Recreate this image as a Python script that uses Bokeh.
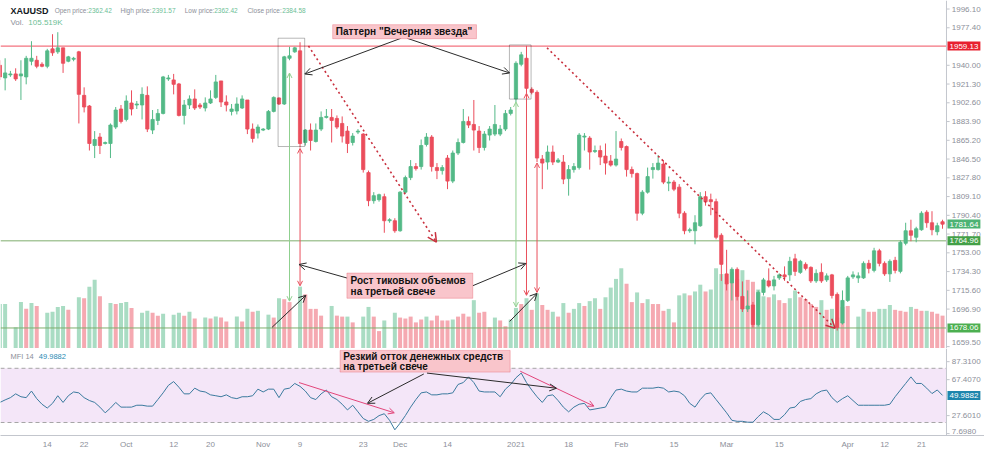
import numpy as np
from bokeh.plotting import figure
from bokeh.models import (Range1d, FixedTicker, BoxAnnotation, Label, Arrow, OpenHead)
from bokeh.core.properties import value
from bokeh.layouts import column
from bokeh.embed import file_html
from bokeh.resources import INLINE

# ---------------- data (XAUUSD daily) ----------------
opens = [
    1940.0, 1927.4, 1930.4, 1931.4, 1929.4, 1928.4, 1944.0, 1945.0, 1941.0, 1939.0,
    1956.4, 1953.4, 1957.4, 1944.0, 1946.0, 1953.4, 1910.0, 1899.4, 1860.0, 1868.4,
    1862.0, 1862.0, 1878.4, 1896.4, 1886.0, 1902.4, 1900.4, 1900.4, 1910.0, 1875.4,
    1885.0, 1892.0, 1926.4, 1925.4, 1921.4, 1890.0, 1900.4, 1906.4, 1900.4, 1897.4,
    1902.4, 1908.0, 1924.4, 1903.4, 1894.0, 1894.4, 1897.4, 1905.4, 1876.4, 1872.4,
    1875.4, 1876.4, 1894.0, 1907.4, 1901.4, 1947.0, 1953.4, 1954.4, 1863.0, 1875.4,
    1864.0, 1876.4, 1888.0, 1888.0, 1887.0, 1882.0, 1874.4, 1863.0, 1873.4, 1871.4,
    1833.0, 1805.0, 1806.0, 1809.0, 1785.0, 1785.0, 1775.0, 1813.5, 1828.0, 1839.0,
    1839.0, 1861.0, 1868.4, 1838.0, 1835.0, 1847.5, 1824.5, 1852.5, 1863.0, 1884.0,
    1881.0, 1874.4, 1858.0, 1870.4, 1871.4, 1871.4, 1876.4, 1892.0, 1906.4, 1941.0,
    1947.0, 1916.0, 1913.0, 1846.5, 1843.5, 1853.5, 1843.5, 1843.5, 1827.0, 1836.0,
    1838.0, 1868.4, 1867.4, 1854.0, 1855.0, 1849.5, 1844.5, 1840.5, 1864.0, 1859.0,
    1836.0, 1832.0, 1792.5, 1813.5, 1836.0, 1836.0, 1841.5, 1822.5, 1823.5, 1818.5,
    1792.5, 1775.0, 1775.0, 1780.0, 1809.0, 1806.0, 1804.0, 1770.5, 1732.0, 1723.0,
    1736.5, 1709.5, 1697.0, 1701.0, 1681.5, 1713.5, 1725.0, 1720.0, 1728.0, 1731.0,
    1731.0, 1747.0, 1733.5, 1741.5, 1738.5, 1725.0, 1733.5, 1726.0, 1731.0, 1711.5,
    1683.0, 1705.5, 1729.0, 1728.0, 1728.0, 1742.5, 1735.5, 1755.0, 1742.5, 1732.0,
    1745.5, 1734.5, 1762.5, 1775.0, 1768.5, 1776.0, 1793.5, 1783.0, 1774.0, 1784.0,
]
highs = [
    1945.0, 1947.0, 1934.4, 1937.0, 1945.0, 1949.4, 1964.0, 1949.4, 1943.0, 1956.4,
    1971.0, 1973.0, 1957.4, 1949.4, 1948.4, 1954.4, 1918.0, 1900.4, 1874.4, 1872.4,
    1864.0, 1882.0, 1898.4, 1900.4, 1910.0, 1915.0, 1904.4, 1918.0, 1919.0, 1895.4,
    1896.4, 1929.4, 1930.4, 1931.4, 1922.4, 1905.4, 1910.0, 1916.0, 1902.4, 1908.0,
    1915.0, 1930.4, 1924.4, 1910.0, 1901.4, 1908.0, 1910.0, 1905.4, 1882.0, 1881.0,
    1877.4, 1895.4, 1909.0, 1908.0, 1949.4, 1958.4, 1958.4, 1963.0, 1876.4, 1882.0,
    1882.0, 1894.0, 1896.4, 1896.4, 1890.0, 1889.0, 1879.4, 1872.4, 1876.4, 1872.4,
    1835.0, 1813.5, 1812.0, 1812.0, 1787.5, 1787.5, 1814.5, 1830.0, 1845.5, 1842.5,
    1866.0, 1872.4, 1870.4, 1842.5, 1840.5, 1850.5, 1855.0, 1867.0, 1896.4, 1889.0,
    1905.4, 1879.4, 1874.4, 1879.4, 1900.4, 1880.4, 1895.4, 1898.4, 1944.0, 1953.4,
    1959.4, 1918.0, 1915.0, 1850.5, 1860.0, 1860.0, 1847.5, 1850.5, 1840.5, 1842.5,
    1872.4, 1872.4, 1869.4, 1860.0, 1860.0, 1862.0, 1850.5, 1874.4, 1867.0, 1860.0,
    1839.0, 1833.0, 1815.5, 1838.0, 1842.5, 1850.5, 1845.5, 1829.0, 1825.5, 1821.5,
    1794.5, 1778.0, 1790.5, 1813.5, 1814.5, 1812.0, 1807.0, 1772.5, 1756.0, 1738.5,
    1738.5, 1724.5, 1715.5, 1704.0, 1715.5, 1728.0, 1737.5, 1730.0, 1732.5, 1739.5,
    1749.0, 1752.0, 1746.0, 1743.5, 1739.5, 1736.5, 1742.5, 1732.5, 1732.0, 1713.5,
    1715.5, 1730.0, 1734.5, 1733.5, 1744.5, 1746.0, 1758.0, 1757.0, 1744.5, 1746.5,
    1749.0, 1765.5, 1783.0, 1786.0, 1779.0, 1794.5, 1795.5, 1794.5, 1783.0, 1786.0,
]
lows = [
    1925.4, 1915.0, 1928.4, 1924.4, 1905.4, 1921.0, 1940.0, 1937.0, 1938.0, 1937.0,
    1949.4, 1951.4, 1932.4, 1943.0, 1944.0, 1882.0, 1893.0, 1855.0, 1847.5, 1851.5,
    1861.0, 1847.5, 1876.4, 1882.0, 1884.0, 1890.0, 1896.4, 1886.0, 1873.4, 1871.4,
    1880.4, 1891.0, 1924.4, 1911.0, 1889.0, 1881.0, 1896.4, 1895.4, 1896.4, 1894.0,
    1901.4, 1906.4, 1898.4, 1894.0, 1890.0, 1891.0, 1896.4, 1871.4, 1863.0, 1867.0,
    1874.4, 1875.4, 1893.0, 1900.4, 1900.4, 1945.0, 1952.4, 1858.0, 1860.0, 1855.0,
    1863.0, 1874.4, 1887.0, 1863.0, 1876.4, 1863.0, 1852.5, 1860.0, 1871.4, 1833.0,
    1799.5, 1802.0, 1804.0, 1773.0, 1783.0, 1773.0, 1774.0, 1812.0, 1825.5, 1835.0,
    1836.0, 1859.0, 1834.0, 1826.5, 1831.0, 1816.5, 1822.5, 1850.5, 1862.0, 1877.4,
    1855.0, 1852.5, 1855.0, 1865.0, 1869.4, 1869.4, 1874.4, 1890.0, 1903.4, 1939.0,
    1912.0, 1911.0, 1843.5, 1816.5, 1836.0, 1840.5, 1842.5, 1821.5, 1810.0, 1833.0,
    1836.0, 1855.0, 1836.0, 1852.5, 1840.5, 1831.0, 1839.0, 1839.0, 1855.0, 1829.0,
    1828.0, 1785.0, 1790.5, 1812.0, 1827.0, 1835.0, 1821.5, 1814.5, 1814.5, 1787.5,
    1771.5, 1773.0, 1761.5, 1779.0, 1800.0, 1790.5, 1766.5, 1725.0, 1715.5, 1705.5,
    1705.5, 1694.0, 1694.0, 1678.5, 1679.5, 1710.5, 1718.5, 1715.5, 1726.0, 1725.0,
    1725.0, 1730.0, 1732.0, 1735.5, 1723.0, 1723.0, 1723.0, 1724.0, 1707.5, 1675.5,
    1681.5, 1704.0, 1727.0, 1723.0, 1727.0, 1732.5, 1733.5, 1739.5, 1730.0, 1724.0,
    1732.5, 1732.5, 1760.5, 1764.5, 1763.5, 1775.0, 1778.0, 1770.5, 1770.5, 1777.0,
]
closes = [
    1928.4, 1932.4, 1931.4, 1926.4, 1931.4, 1947.0, 1947.0, 1939.0, 1939.0, 1954.4,
    1952.4, 1957.4, 1942.0, 1948.4, 1947.0, 1911.0, 1898.4, 1862.0, 1866.0, 1860.0,
    1863.0, 1880.4, 1895.4, 1884.0, 1904.4, 1896.4, 1901.4, 1911.0, 1876.4, 1886.0,
    1892.0, 1928.4, 1927.4, 1921.0, 1890.0, 1900.4, 1906.4, 1897.4, 1898.4, 1902.4,
    1906.4, 1923.4, 1903.4, 1900.4, 1896.4, 1901.4, 1906.4, 1876.4, 1867.0, 1878.4,
    1876.4, 1894.0, 1908.0, 1901.4, 1948.4, 1949.4, 1957.4, 1862.0, 1875.4, 1865.0,
    1875.4, 1888.0, 1889.0, 1885.0, 1878.4, 1869.4, 1862.0, 1869.4, 1874.4, 1836.0,
    1805.0, 1810.0, 1811.0, 1785.0, 1786.0, 1775.0, 1813.5, 1828.0, 1839.0, 1837.0,
    1860.0, 1868.4, 1839.0, 1835.0, 1838.0, 1824.5, 1852.5, 1863.0, 1884.0, 1880.4,
    1875.4, 1858.0, 1871.4, 1876.4, 1881.0, 1876.4, 1892.0, 1895.4, 1942.0, 1950.4,
    1917.0, 1913.0, 1847.5, 1842.5, 1853.5, 1843.5, 1845.5, 1826.5, 1836.0, 1839.0,
    1870.4, 1869.4, 1853.5, 1855.0, 1848.5, 1842.5, 1840.5, 1846.5, 1858.0, 1836.0,
    1832.0, 1792.5, 1813.5, 1829.0, 1838.0, 1842.5, 1823.5, 1823.5, 1816.5, 1792.5,
    1775.0, 1776.0, 1783.0, 1809.0, 1804.0, 1804.0, 1768.5, 1741.5, 1722.0, 1736.5,
    1709.5, 1697.0, 1700.0, 1681.5, 1713.5, 1726.0, 1720.0, 1726.0, 1731.0, 1729.0,
    1744.5, 1734.5, 1744.5, 1737.5, 1725.0, 1732.5, 1725.0, 1730.0, 1710.5, 1678.5,
    1705.5, 1728.0, 1731.0, 1730.0, 1742.5, 1737.5, 1755.0, 1742.5, 1732.0, 1744.5,
    1735.5, 1763.5, 1775.0, 1770.5, 1777.0, 1792.5, 1783.0, 1776.0, 1780.0, 1781.6,
]
# tick volume, thousands
volumes = [
    230, 230, 2, 110, 240, 205, 235, 220, 2, 185,
    190, 215, 220, 200, 2, 265, 260, 320, 355, 270,
    2, 235, 230, 235, 240, 210, 2, 185, 195, 185,
    170, 180, 2, 175, 185, 170, 190, 155, 2, 160,
    155, 165, 160, 140, 2, 165, 140, 205, 190, 195,
    2, 175, 160, 260, 255, 240, 2, 320, 280, 205,
    205, 170, 2, 220, 170, 165, 165, 135, 2, 165,
    215, 165, 90, 145, 2, 185, 160, 155, 165, 135,
    150, 165, 145, 170, 145, 145, 150, 165, 180, 165,
    250, 185, 190, 110, 160, 145, 115, 150, 210, 230,
    260, 200, 285, 225, 200, 190, 165, 235, 185, 205,
    235, 220, 245, 260, 205, 265, 315, 360, 415, 335,
    240, 290, 235, 255, 230, 230, 195, 205, 135, 275,
    285, 275, 295, 330, 295, 305, 415, 385, 335, 395,
    360, 405, 355, 345, 305, 270, 265, 280, 250, 235,
    260, 300, 265, 255, 230, 215, 250, 200, 205, 160,
    215, 220, 2, 165, 205, 190, 190, 205, 205, 225,
    200, 195, 190, 215, 205, 195, 195, 190, 180, 170,
]
vol_up = [
    1, 1, 1, 1, 1, 0, 1, 0, 1, 1,
    1, 1, 1, 0, 1, 1, 0, 1, 1, 0,
    1, 1, 0, 1, 1, 0, 1, 1, 1, 0,
    0, 1, 1, 1, 1, 0, 1, 0, 1, 1,
    0, 1, 0, 0, 1, 1, 0, 1, 0, 1,
    1, 1, 0, 1, 0, 0, 1, 1, 0, 0,
    0, 0, 1, 1, 0, 0, 1, 0, 1, 1,
    1, 0, 0, 1, 1, 1, 0, 0, 0, 0,
    0, 1, 0, 0, 0, 0, 1, 0, 0, 0,
    1, 0, 0, 0, 1, 0, 0, 1, 1, 0,
    1, 0, 1, 0, 0, 1, 0, 1, 0, 1,
    1, 0, 1, 1, 0, 1, 1, 1, 1, 0,
    0, 1, 0, 1, 0, 0, 0, 1, 0, 1,
    1, 0, 1, 1, 0, 1, 1, 1, 0, 0,
    0, 1, 0, 0, 1, 1, 0, 1, 0, 0,
    1, 1, 0, 0, 0, 0, 1, 0, 1, 1,
    0, 0, 1, 1, 1, 0, 0, 1, 1, 1,
    0, 0, 0, 1, 0, 0, 1, 0, 0, 0,
]
mfi = [
    42.2, 45.0, 47.5, 51.7, 48.5, 47.5, 54.8, 46.4, 40.2, 36.0,
    41.2, 49.6, 42.2, 49.6, 53.8, 52.8, 47.5, 44.3, 42.2, 37.0,
    30.7, 36.0, 42.2, 37.0, 37.0, 37.0, 39.1, 39.1, 38.1, 38.1,
    45.4, 52.8, 61.1, 65.3, 59.0, 51.7, 51.7, 58.0, 54.8, 53.8,
    50.6, 49.6, 48.5, 50.6, 47.5, 46.4, 48.5, 48.5, 49.6, 56.9,
    53.8, 56.9, 56.9, 47.5, 56.9, 58.0, 63.2, 60.0, 54.8, 47.5,
    45.4, 51.7, 55.9, 48.5, 45.4, 40.2, 33.9, 39.1, 31.8, 24.4,
    21.3, 23.4, 27.6, 29.7, 22.4, 11.9, 19.2, 27.6, 37.0, 45.4,
    52.8, 53.8, 50.6, 50.6, 51.7, 51.7, 52.8, 62.1, 64.2, 70.5,
    64.2, 54.8, 53.8, 53.8, 53.8, 48.5, 56.9, 62.1, 69.5, 74.7,
    64.2, 55.9, 48.5, 42.2, 49.6, 50.6, 44.3, 37.0, 31.8, 37.0,
    40.2, 41.2, 33.9, 34.9, 36.0, 37.0, 47.5, 55.9, 56.9, 54.8,
    53.8, 53.8, 58.0, 58.0, 58.0, 59.0, 58.0, 53.8, 54.8, 53.8,
    49.6, 41.2, 37.0, 45.4, 51.7, 52.8, 45.4, 38.1, 30.7, 22.4,
    21.3, 21.3, 20.3, 20.3, 26.5, 31.8, 28.6, 23.4, 23.4, 28.6,
    36.0, 37.0, 43.3, 45.4, 46.4, 51.7, 54.8, 55.9, 47.5, 42.2,
    46.4, 49.6, 44.3, 39.1, 39.1, 39.1, 39.1, 39.1, 39.1, 40.2,
    48.5, 55.9, 63.2, 70.5, 63.2, 63.2, 58.0, 52.0, 56.0, 49.9882,
]
price_ticks = [1996.10, 1977.40, 1940.00, 1921.30, 1902.60, 1883.90, 1865.20, 1846.50,
               1827.80, 1809.10, 1790.40, 1771.70, 1753.00, 1734.30, 1715.60, 1696.90, 1659.50]
mfi_ticks = [87.31, 67.407, 27.601, 7.698]
date_ticks = [9, 16, 24, 33, 40, 50, 57, 69, 76, 85, 98, 108, 118, 128, 138, 148, 161, 168, 175]
date_labels = ["14", "22", "Oct", "12", "20", "Nov", "9", "23", "Dec", "14", "2021",
               "18", "Feb", "15", "Mar", "15", "Apr", "12", "21"]
level_red = 1959.13
level_green = [1764.96, 1678.06]
last_close = 1781.64
mfi_last = 49.9882

# ---------------- styling ----------------
UP, DOWN = "#53b987", "#eb4d5c"
VUP, VDOWN = "#a9dcc3", "#f5a9b1"
FONT = "Liberation Sans"
AXIS_C = "#c3c6cd"
LBL_C = "#8c8f99"
AX = 179.75            # x position (bar units) of the price scale line
X0, X1 = 0.12, 186.97  # visible bar range incl. the price-scale strip

n = len(opens)
idx = np.arange(n)
o = np.array(opens); h = np.array(highs); l = np.array(lows); c = np.array(closes)
ccol = [UP if cc >= oo else DOWN for oo, cc in zip(o, c)]
vcol = [VUP if u else VDOWN for u in vol_up]

xr = Range1d(X0, X1)
p = figure(width=984, height=348, x_range=xr, y_range=Range1d(1657.6, 2004.6),
           output_backend="svg", toolbar_location=None, x_axis_location=None,
           y_axis_location=None, min_border_left=0, min_border_right=0,
           min_border_top=0, min_border_bottom=0)
p.extra_y_ranges = {"vol": Range1d(0, 1800)}
p.grid.visible = False
p.outline_line_color = None


def price_scale(fig, ticks, labels, lo_fix=None):
    k = len(ticks)
    fig.segment(x0=[AX] * k, y0=ticks, x1=[AX + 0.6] * k, y1=ticks, line_color=AXIS_C)
    ys = list(ticks)
    if lo_fix is not None:
        ys[-1] = lo_fix
    fig.text(x=[AX + 1.0] * k, y=ys, text=labels, text_font=value(FONT),
             text_font_size="8px", text_color=LBL_C, text_baseline="middle", text_align="left")
    fig.segment(x0=[AX], y0=[fig.y_range.start], x1=[AX], y1=[fig.y_range.end],
                line_color=AXIS_C, line_width=1)


# volume histogram (overlay)
p.vbar(x=idx, width=0.76, top=volumes, bottom=0, y_range_name="vol",
       fill_color=vcol, line_color=None)

# horizontal levels (up to the price scale)
p.segment(x0=[X0], y0=[level_red], x1=[AX], y1=[level_red], line_color="#f0505f", line_width=1)
p.segment(x0=[X0] * 2, y0=level_green, x1=[AX] * 2, y1=level_green,
          line_color="#7fae6e", line_width=1)

# candles
p.segment(idx, h, idx, l, line_color=ccol, line_width=1)
p.vbar(x=idx, width=0.62, top=np.maximum(o, c), bottom=np.minimum(o, c),
       fill_color=ccol, line_color=ccol, line_width=0.8)

price_scale(p, price_ticks, [f"{t:.2f}" for t in price_ticks], lo_fix=1663.5)

# pattern rectangles
p.add_layout(BoxAnnotation(left=52.83, right=57.88, top=1967.0, bottom=1859.0,
                           fill_alpha=0, line_color="#111111", line_width=1))
p.add_layout(BoxAnnotation(left=96.76, right=100.87, top=1960.3, bottom=1906.3,
                           fill_alpha=0, line_color="#111111", line_width=1))

# dotted red trend arrows
for xs, ys, xe, ye in [(58.6, 1959.3, 82.9, 1763.6), (103.9, 1957.4, 158.6, 1677.8)]:
    p.add_layout(Arrow(end=OpenHead(size=9, line_color="#c9303e", line_width=1.5),
                       x_start=xs, y_start=ys, x_end=xe, y_end=ye,
                       line_color="#c9303e", line_width=1.6, line_dash="2 3"))

# vertical candle -> volume arrows
for xv, yt, yb, col in [(55, 1932.3, 1704.8, "#8fd08f"), (57, 1857.1, 1720.1, "#e9505c"),
                        (98, 1903.4, 1699.0, "#8fd08f"), (100, 1912.1, 1710.6, "#e9505c"),
                        (102, 1842.6, 1713.5, "#e9505c")]:
    p.add_layout(Arrow(start=OpenHead(size=5, line_color=col, line_width=1),
                       end=OpenHead(size=5, line_color=col, line_width=1),
                       x_start=xv, y_start=yt, x_end=xv, y_end=yb,
                       line_color=col, line_width=1))

# black pointer arrows
for xs, ys, xe, ye in [(76.2, 1967.0, 57.9, 1931.3), (77.3, 1967.0, 96.8, 1932.3),
                       (65.9, 1727.9, 56.8, 1741.4), (89.8, 1720.2, 99.9, 1742.4),
                       (51.7, 1678.8, 58.1, 1710.6), (96.8, 1684.6, 102.0, 1712.5)]:
    p.add_layout(Arrow(end=OpenHead(size=7, line_color="#2b2b2b", line_width=1),
                       x_start=xs, y_start=ys, x_end=xe, y_end=ye,
                       line_color="#2b2b2b", line_width=1))

PINK, PINK_B = "#f9c5cb", "#e0404f"


def note_box(fig, left, right, top, bottom, lines, x_text):
    fig.add_layout(BoxAnnotation(left=left, right=right, top=top, bottom=bottom,
                                 fill_color=PINK, fill_alpha=1, line_color=PINK_B, line_width=1))
    for yy, txt in lines:
        fig.add_layout(Label(x=x_text, y=yy, text=txt, text_font=FONT, text_font_style="bold",
                             text_font_size="10px", text_color="#111111", text_baseline="middle"))


note_box(p, 63.2, 90.5, 1980.5, 1966.5, [(1973.4, 'Паттерн "Вечерняя звезда"')], 63.8)
note_box(p, 65.9, 89.8, 1732.8, 1707.7,
         [(1725.0, "Рост тиковых объемов"), (1714.2, "на третьей свече")], 66.6)


def hlabel(fig, x, y, text, color, size, bold=False):
    fig.add_layout(Label(x=x, y=y, text=text, text_font=FONT, text_font_size=size,
                         text_color=color, text_baseline="middle",
                         text_font_style="bold" if bold else "normal"))


hlabel(p, 2.0, 1994.3, "XAUUSD", "#131722", "9px", True)
for xx, txt, col in [(10.4, "Open price:", "#8c8f99"), (16.8, "2362.42", "#6cc096"),
                     (22.9, "High price:", "#8c8f99"), (28.9, "2391.57", "#6cc096"),
                     (35.1, "Low price:", "#8c8f99"), (40.7, "2362.42", "#6cc096"),
                     (47.0, "Close price:", "#8c8f99"), (53.6, "2384.58", "#6cc096")]:
    hlabel(p, xx, 1994.3, txt, col, "6.5px")
hlabel(p, 2.0, 1982.7, "Vol.", "#8c8f99", "8px")
hlabel(p, 5.4, 1982.7, "105.519K", "#6cc096", "8px")


def tag(fig, y, txt, bg):
    fig.add_layout(Label(x=AX, y=y, x_offset=1, text=txt, text_font=FONT,
                         text_font_size="8px", text_color="white", text_baseline="middle",
                         background_fill_color=bg, padding=2))


tag(p, level_red, f"{level_red:.2f}", "#e8202f")
tag(p, last_close, f"{last_close:.2f}", "#4db374")
tag(p, level_green[0], f"{level_green[0]:.2f}", "#43a047")
tag(p, level_green[1], f"{level_green[1]:.2f}", "#4caf50")

# ---------------- MFI pane ----------------
q = figure(width=984, height=103, x_range=xr, y_range=Range1d(5.6, 101.9),
           output_backend="svg", toolbar_location=None, y_axis_location=None,
           min_border_left=0, min_border_right=0, min_border_top=0, min_border_bottom=0)
q.grid.visible = False
q.outline_line_color = None

xa = q.xaxis[0]
xa.ticker = FixedTicker(ticks=date_ticks)
xa.major_label_overrides = {t: s for t, s in zip(date_ticks, date_labels)}
xa.axis_line_color = AXIS_C
xa.major_tick_line_color = None
xa.major_tick_out = 0
xa.major_tick_in = 0
xa.minor_tick_line_color = None
xa.major_label_text_color = LBL_C
xa.major_label_text_font_size = "8px"
xa.major_label_text_font = FONT
xa.major_label_standoff = 4

q.add_layout(BoxAnnotation(bottom=20, top=80, left=X0, right=AX, fill_color="#f4e6f8",
                           fill_alpha=1, line_color=None, level="underlay"))
q.segment(x0=[X0, X0], y0=[80, 20], x1=[AX, AX], y1=[80, 20], line_color="#a5a5a5",
          line_width=1, line_dash="4 3")
q.line(idx, mfi, line_color="#3b7a9e", line_width=1)

price_scale(q, mfi_ticks, [f"{t:.4f}" for t in mfi_ticks], lo_fix=10.2)

for xs, ys, xe, ye in [(56.8, 64.2, 74.9, 30.7), (98.8, 76.8, 112.8, 38.1)]:
    q.add_layout(Arrow(end=OpenHead(size=6, line_color="#e2457a", line_width=1),
                       x_start=xs, y_start=ys, x_end=xe, y_end=ye,
                       line_color="#e2457a", line_width=1))
for xs, ys, xe, ye in [(80.5, 73.7, 69.8, 41.2), (81.1, 74.7, 105.7, 57.9)]:
    q.add_layout(Arrow(end=OpenHead(size=7, line_color="#2b2b2b", line_width=1),
                       x_start=xs, y_start=ys, x_end=xe, y_end=ye,
                       line_color="#2b2b2b", line_width=1))

note_box(q, 64.6, 96.9, 99.8, 75.8,
         [(93.4, "Резкий отток денежных средств"), (82.4, "на третьей свече")], 65.2)

hlabel(q, 2.0, 92.5, "MFI 14", "#8c8f99", "7.5px")
hlabel(q, 7.4, 92.5, f"{mfi_last:.4f}", "#2a8ab4", "7.5px")
tag(q, mfi_last, f"{mfi_last:.4f}", "#1d86ad")

layout = column(p, q)
open("out.html", "w").write(file_html(layout, INLINE, "XAUUSD"))
